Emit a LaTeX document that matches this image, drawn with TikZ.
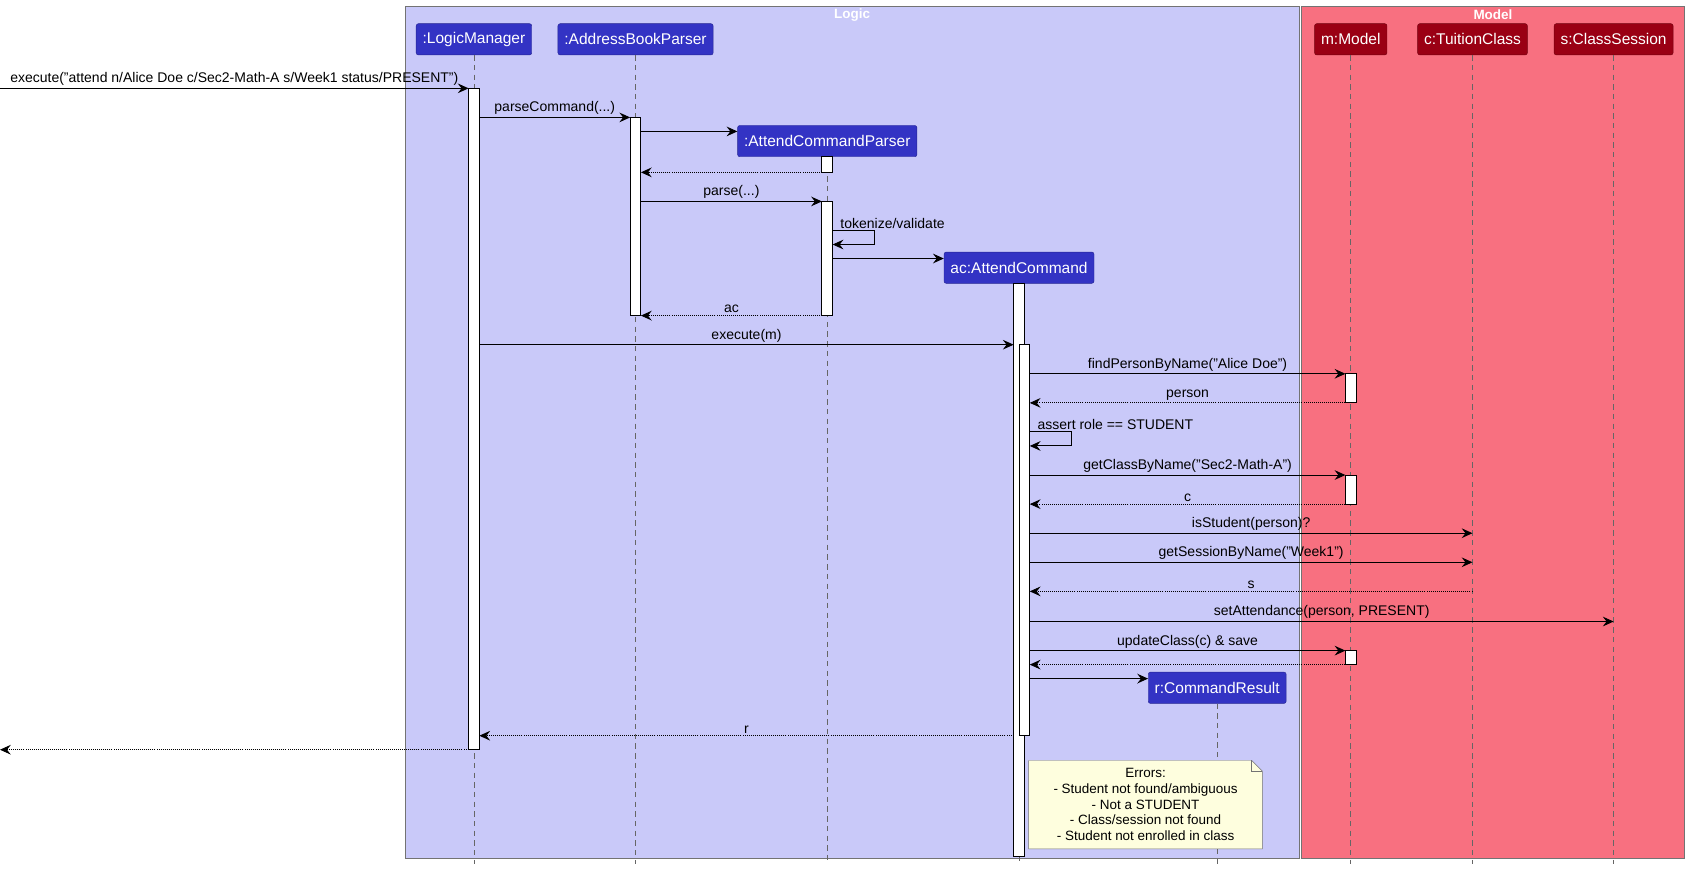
\documentclass[tikz,border=0pt]{standalone}
\usepackage{fontspec}
\setmainfont{Liberation Sans}
\usepackage{tikz}
\usetikzlibrary{arrows,arrows.meta,positioning}

\definecolor{logicbg}{HTML}{C9C9F9}
\definecolor{logicobjc}{HTML}{3333C4}
\definecolor{modelbg}{HTML}{F87080}
\definecolor{modelobjc}{HTML}{9A0014}
\definecolor{notebg}{HTML}{FEFEDE}

\begin{document}
\begin{tikzpicture}[
x=1pt, y=-1pt,
font=\fontsize{13}{15}\selectfont,
logicobj/.style={draw=logicobjc!75!black, fill=logicobjc, text=white, rounded corners=2pt,
  minimum height=29pt, inner xsep=6pt, font=\fontsize{14.4}{17}\selectfont},
modelobj/.style={logicobj, draw=modelobjc!75!black, fill=modelobjc},
lifeline/.style={draw=gray!80!black, line width=0.7pt, dash pattern=on 5pt off 4pt},
activation/.style={draw=black, fill=white, line width=0.8pt},
call/.style={->, line width=0.9pt, >={Stealth[length=10pt,width=9pt,inset=3.5pt]}},
reply/.style={call, densely dotted},
msg/.style={above, inner sep=2pt},
frametitle/.style={text=white, font=\bfseries\fontsize{12.5}{14}\selectfont}
]
    % Page size
    \useasboundingbox (0,0) rectangle (1568,808);

    % Draw frames
    \fill [draw=gray!90!black, fill=logicbg] (376,6) rectangle (1206,797);
    \fill [draw=gray!90!black, fill=modelbg] (1208,6) rectangle (1564,797);
    \node[frametitle] (logicT) at (791,14) {Logic};
    \node[frametitle] (modelT) at (1386,14) {Model};

    % Participants
    \node[logicobj] (lm) at (440,36.5) {:LogicManager};
    \node[logicobj] (abp) at (590,36.5) {:AddressBookParser};
    \node[logicobj] (acp) at (768,131) {:AttendCommandParser};
    \node[logicobj] (ac) at (946,248.5) {ac:AttendCommand};
    \node[logicobj] (cr) at (1130,638.5) {r:CommandResult};
    \node[modelobj] (mm) at (1254,36.5) {m:Model};
    \node[modelobj] (tc) at (1367,36.5) {c:TuitionClass};
    \node[modelobj] (cs) at (1498,36.5) {s:ClassSession};

    % Lifelines
    \coordinate (bottom) at (0,802);
    \foreach \p in {lm,abp,acp,ac,cr,mm,tc,cs}
        \draw[lifeline] (\p.south) -- (\p.south |- bottom);

    % Activations
    \draw[activation] (435,82) rectangle (445,696);
    \draw[activation] (585,109) rectangle (595,293);
    \draw[activation] (763,145) rectangle (773,160);
    \draw[activation] (763,187) rectangle (773,293);
    \draw[activation] (941,263) rectangle (951,795);
    \draw[activation] (946,320) rectangle (956,683);
    \draw[activation] (1249,347) rectangle (1259,374);
    \draw[activation] (1249,441) rectangle (1259,468);
    \draw[activation] (1249,604) rectangle (1259,617);

    \draw
    (0,82) coordinate (in0)
    (435,82) coordinate (lm1)
    (445,109) coordinate (lm2)
    (585,109) coordinate (abp1)
    (595,122) coordinate (abp2)
    (595,160) coordinate (abp3)
    (763,160) coordinate (acp1)
    (595,187) coordinate (abp4)
    (763,187) coordinate (acp2)
    (773,214) coordinate (acp3)
    (812,227) coordinate (acp4)
    (773,240) coordinate (acp5)
    (763,293) coordinate (acp6)
    (595,293) coordinate (abp5)
    (445,320) coordinate (lm3)
    (941,320) coordinate (ac1)
    (956,347) coordinate (ac2)
    (1249,347) coordinate (mm1)
    (1249,374) coordinate (mm2)
    (956,374) coordinate (ac3)
    (956,401) coordinate (ac4)
    (995,414) coordinate (ac5)
    (956,441) coordinate (ac6)
    (1249,441) coordinate (mm3)
    (1249,468) coordinate (mm4)
    (956,468) coordinate (ac7)
    (956,495) coordinate (ac8)
    (1367,495) coordinate (tc1)
    (956,522) coordinate (ac9)
    (1367,522) coordinate (tc2)
    (1367,549) coordinate (tc3)
    (956,549) coordinate (ac10)
    (956,577) coordinate (ac11)
    (1498,577) coordinate (cs1)
    (956,604) coordinate (ac12)
    (1249,604) coordinate (mm5)
    (1249,617) coordinate (mm6)
    (956,617) coordinate (ac13)
    (956,630) coordinate (ac14)
    (941,683) coordinate (ac15)
    (445,683) coordinate (lm4)
    (435,696) coordinate (lm5)
    (0,696) coordinate (out0);

    % Messages
    \draw[call] (in0) -- node[msg]{execute("attend n/Alice Doe c/Sec2-Math-A s/Week1 status/PRESENT")} (lm1);
    \draw[call] (lm2) -- node[msg]{parseCommand(...)} (abp1);
    \draw[call] (abp2) -- (acp.west |- abp2);
    \draw[reply] (acp1) -- (abp3);
    \draw[call] (abp4) -- node[msg]{parse(...)} (acp2);
    \draw[call] (acp3) -- (acp3 -| acp4) -- (acp4) -- (acp4 -| acp3);
    \node[anchor=south west, inner sep=2pt] (tokT) at ([xshift=5pt]acp3) {tokenize/validate};
    \draw[call] (acp5) -- (ac.west |- acp5);
    \draw[reply] (acp6) -- node[msg]{ac} (abp5);
    \draw[call] (lm3) -- node[msg]{execute(m)} (ac1);
    \draw[call] (ac2) -- node[msg]{findPersonByName("Alice Doe")} (mm1);
    \draw[reply] (mm2) -- node[msg]{person} (ac3);
    \draw[call] (ac4) -- (ac4 -| ac5) -- (ac5) -- (ac5 -| ac4);
    \node[anchor=south west, inner sep=2pt] (roleT) at ([xshift=5pt]ac4) {assert role == STUDENT};
    \draw[call] (ac6) -- node[msg]{getClassByName("Sec2-Math-A")} (mm3);
    \draw[reply] (mm4) -- node[msg]{c} (ac7);
    \draw[call] (ac8) -- node[msg]{isStudent(person)?} (tc1);
    \draw[call] (ac9) -- node[msg]{getSessionByName("Week1")} (tc2);
    \draw[reply] (tc3) -- node[msg]{s} (ac10);
    \draw[call] (ac11) -- node[msg]{setAttendance(person, PRESENT)} (cs1);
    \draw[call] (ac12) -- node[msg]{updateClass(c) \& save} (mm5);
    \draw[reply] (mm6) -- (ac13);
    \draw[call] (ac14) -- (cr.west |- ac14);
    \draw[reply] (ac15) -- node[msg]{r} (lm4);
    \draw[reply] (lm5) -- (out0);

    % Note
    \fill [draw=gray!90!black, fill=notebg]
    (955,706) -- (1162,706) -- (1172,716) -- (1172,788) -- (955,788) -- cycle;
    \draw [gray!90!black] (1162,706) -- (1162,716) -- (1172,716);
    \node[align=center, font=\fontsize{12.5}{14.5}\selectfont] (errors) at (1063.5,747)
    {Errors:\\- Student not found/ambiguous\\- Not a STUDENT\\- Class/session not found\\- Student not enrolled in class};

\end{tikzpicture}
\end{document}
